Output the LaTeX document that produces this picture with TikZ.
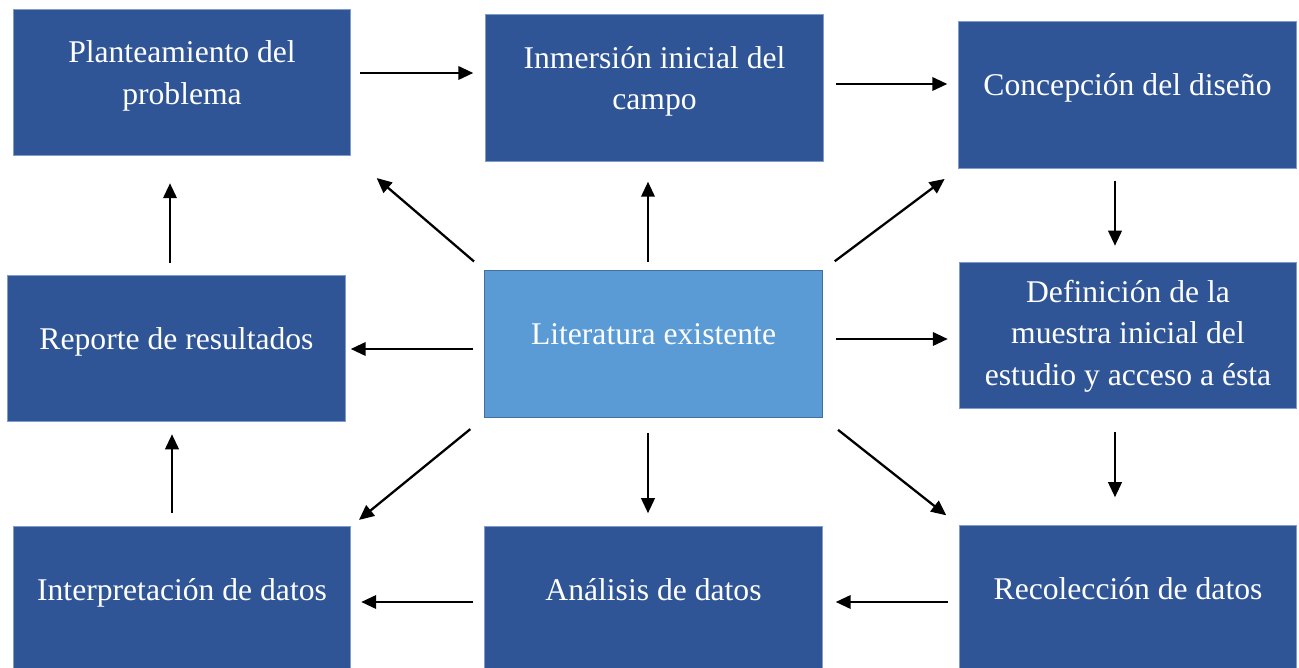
\documentclass[tikz,border=0pt]{standalone}
\usepackage{fontspec}
\setmainfont{Liberation Serif}
\usetikzlibrary{arrows.meta}
\definecolor{boxblue}{HTML}{2F5597}
\definecolor{boxedge}{HTML}{7F9CCB}
\definecolor{litblue}{HTML}{5B9BD5}
\definecolor{litedge}{HTML}{41719C}

\begin{document}
\begin{tikzpicture}[
    x=0.02cm, y=-0.02cm,
    stage/.style={rectangle, draw=boxedge, line width=0.6pt, fill=boxblue, text=white, minimum width=6.75cm, minimum height=2.93cm, align=center, text depth=11.5pt, inner sep=0pt},
    source/.style={stage, draw=litedge, fill=litblue},
    arrow/.style={-{Triangle[length=0.3cm, width=0.27cm]}, line width=1.3pt},
    every node/.append style={font=\fontsize{18}{23.5}\selectfont}
]
    \useasboundingbox (0,0) rectangle (1299,668);
    \clip (0,0) rectangle (1299,668);

    % Stages of the process
    \node[stage] (plan) at (182,82.5) {Planteamiento del\\problema};
    \node[stage] (inm) at (654.5,88) {Inmersión inicial del\\campo};
    \node[stage] (conc) at (1127.5,95) {Concepción del diseño};
    \node[stage] (rep) at (176.5,348.5) {Reporte de resultados};
    \node[source] (lit) at (653.5,344) {Literatura existente};
    \node[stage, text depth=3pt] (def) at (1128,335.5) {Definición de la\\muestra inicial del\\estudio y acceso a ésta};
    \node[stage] (int) at (182,600) {Interpretación de datos};
    \node[stage] (ana) at (653.5,600) {Análisis de datos};
    \node[stage] (rec) at (1128,599) {Recolección de datos};

    % Main cycle
    \draw[arrow, shorten <=0.18cm, shorten >=0.24cm] (plan.east |- 0,73) -- (inm.west |- 0,73);
    \draw[arrow, shorten <=0.24cm, shorten >=0.22cm] (inm.east |- 0,84) -- (conc.west |- 0,84);
    \draw[arrow, shorten <=0.24cm, shorten >=0.32cm] (conc.south -| 1115,0) -- (def.north -| 1115,0);
    \draw[arrow, shorten <=0.46cm, shorten >=0.56cm] (def.south -| 1115,0) -- (rec.north -| 1115,0);
    \draw[arrow, shorten <=0.22cm, shorten >=0.26cm] (rec.west |- 0,602) -- (ana.east |- 0,602);
    \draw[arrow, shorten <=0.22cm, shorten >=0.2cm] (ana.west |- 0,602) -- (int.east |- 0,602);
    \draw[arrow, shorten <=0.26cm, shorten >=0.24cm] (int.north -| 172,0) -- (rep.south -| 172,0);
    \draw[arrow, shorten <=0.24cm, shorten >=0.54cm] (rep.north -| 170,0) -- (plan.south -| 170,0);

    % From the literature to every stage
    \draw[arrow, shorten <=0.22cm, shorten >=0.1cm] (lit.west |- 0,349) -- (rep.east |- 0,349);
    \draw[arrow, shorten <=0.27cm, shorten >=0.67cm] (lit.north west) -- (plan.south east);
    \draw[arrow, shorten <=0.16cm, shorten >=0.4cm] (lit.north -| 648,0) -- (inm.south -| 648,0);
    \draw[arrow, shorten <=0.3cm, shorten >=0.34cm] (lit.north east) -- (conc.south west);
    \draw[arrow, shorten <=0.26cm, shorten >=0.22cm] (lit.east |- 0,339) -- (def.west |- 0,339);
    \draw[arrow, shorten <=0.39cm, shorten >=0.32cm] (lit.south east) -- (rec.north west);
    \draw[arrow, shorten <=0.3cm, shorten >=0.26cm] (lit.south -| 648,0) -- (ana.north -| 648,0);
    \draw[arrow, shorten <=0.36cm, shorten >=0.2cm] (lit.south west) -- (int.north east);
\end{tikzpicture}
\end{document}
